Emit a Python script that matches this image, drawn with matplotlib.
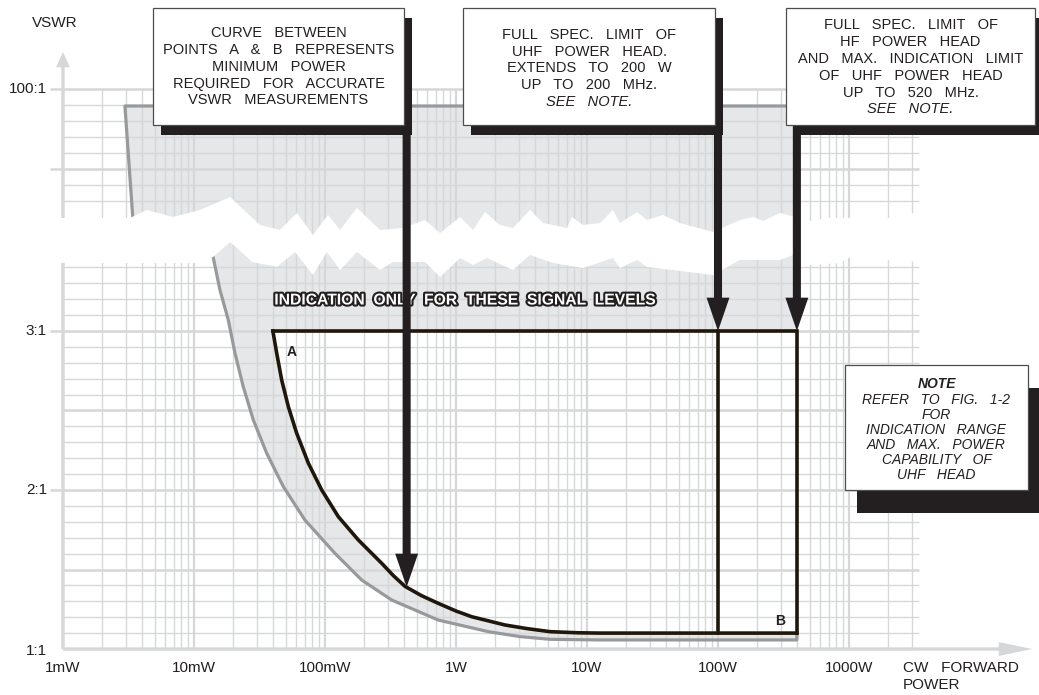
import numpy as np
import matplotlib
matplotlib.use('Agg')
import matplotlib.pyplot as plt
from matplotlib.patches import Rectangle
import matplotlib.patheffects as pe
import matplotlib.transforms as mtransforms

plt.rcParams['font.family'] = ['Liberation Sans', 'DejaVu Sans']

W, H = 1039, 695

# axis labels
x_ticks = [1e-3, 1e-2, 1e-1, 1, 10, 100, 1000]
x_labels = ['1mW', '10mW', '100mW', '1W', '10W', '100W', '1000W']
y_ticks = [0.985, 2.0, 3.0, 4.52]
y_labels = ['1:1', '2:1', '3:1', '100:1']

# gray outer boundary (power in W, VSWR in chart units; 4.52 = 100:1)
gray_p = [400, 0.00297, 0.00342, 0.0140, 0.01578, 0.01828, 0.02056, 0.02376, 0.02838,
          0.0359, 0.0481, 0.0703, 0.119, 0.1905, 0.323, 0.733, 1.765, 3.08, 5.22,
          12.6, 400, 400]
gray_v = [4.415, 4.415, 3.698, 3.465, 3.258, 3.069, 2.860, 2.650, 2.440,
          2.231, 2.021, 1.811, 1.602, 1.434, 1.308, 1.182, 1.109, 1.078, 1.061,
          1.057, 1.057, 1.10]

# curve A-B (minimum power for accurate VSWR)
black_p = [0.04, 0.0428, 0.0467, 0.0525, 0.0608, 0.0747, 0.0944, 0.1265, 0.1795,
           0.271, 0.332, 0.408, 0.547, 0.733, 1.0, 1.318, 2.366, 3.5, 5.22, 8.5, 12.6, 400]
black_v = [3.0, 2.860, 2.692, 2.524, 2.357, 2.168, 2.000, 1.832, 1.686,
           1.539, 1.462, 1.394, 1.335, 1.287, 1.239, 1.203, 1.151, 1.128, 1.109, 1.102, 1.10, 1.10]

rect_top = 3.0
rect_bot = 1.10
uhf_limit = 100
hf_limit = 400
arrow1_p = 0.42
arrow1_v = 1.39

# scale break (log10 W, chart units)
band_top_lx = [-3.176, -2.489, -2.359, -2.160, -1.954, -1.725, -1.595, -1.496, -1.344,
               -1.214, -1.092, -0.977, -0.885, -0.756, -0.580, -0.405, -0.237, -0.122,
               0.031, 0.130, 0.221, 0.336, 0.435, 0.565, 0.664, 0.847, 0.885, 0.969,
               1.099, 1.198, 1.252, 1.382, 1.458, 1.580, 1.710, 1.962, 2.168, 2.267,
               2.344, 2.473, 2.702, 2.832, 3.061, 3.237, 3.466, 3.580]
band_top_v = [3.711, 3.711, 3.761, 3.717, 3.761, 3.843, 3.742, 3.667, 3.635,
              3.742, 3.604, 3.730, 3.635, 3.774, 3.635, 3.648, 3.698, 3.616,
              3.717, 3.635, 3.748, 3.667, 3.648, 3.761, 3.679, 3.648, 3.717, 3.667,
              3.679, 3.761, 3.679, 3.748, 3.698, 3.730, 3.679, 3.623, 3.698, 3.717,
              3.692, 3.742, 3.692, 3.711, 3.711, 3.698, 3.742, 3.730]
band_bot_lx = [-3.176, -1.954, -1.855, -1.725, -1.595, -1.557, -1.366, -1.229, -1.092,
               -0.985, -0.885, -0.756, -0.580, -0.481, -0.237, -0.122, 0.031, 0.130,
               0.237, 0.435, 0.565, 0.740, 0.969, 1.198, 1.252, 1.382, 1.458, 1.962,
               2.168, 2.473, 2.573, 2.702, 2.931, 3.107, 3.237, 3.580]
band_bot_v = [3.428, 3.428, 3.465, 3.560, 3.465, 3.434, 3.403, 3.497, 3.352,
              3.497, 3.384, 3.497, 3.384, 3.434, 3.434, 3.340, 3.459, 3.415,
              3.459, 3.384, 3.478, 3.428, 3.396, 3.459, 3.396, 3.447, 3.403, 3.352,
              3.447, 3.447, 3.478, 3.415, 3.428, 3.509, 3.447, 3.434]

box1 = ['CURVE BETWEEN', 'POINTS A & B REPRESENTS', 'MINIMUM POWER',
        'REQUIRED FOR ACCURATE', 'VSWR MEASUREMENTS']
box2 = ['FULL SPEC. LIMIT OF', 'UHF POWER HEAD.', 'EXTENDS TO 200 W',
        'UP TO 200 MHz.', 'SEE NOTE.']
box3 = ['FULL SPEC. LIMIT OF', 'HF POWER HEAD', 'AND MAX. INDICATION LIMIT',
        'OF UHF POWER HEAD', 'UP TO 520 MHz.', 'SEE NOTE.']
note = ['NOTE', 'REFER TO FIG. 1-2', 'FOR', 'INDICATION RANGE',
        'AND MAX. POWER', 'CAPABILITY OF', 'UHF HEAD']

GRID = '#d6d7d8'
SHADE = '#e6e7e8'
INK = '#231f20'
CURVE = '#20170c'

fig = plt.figure(figsize=(W/100, H/100), dpi=100)
ax = fig.add_axes([0, 0, 1, 1])
ax.set_xscale('log')
ax.set_xlim(10**(-3 - 63/131), 10**(-3 + 976/131))
ax.set_ylim(1 - 46/159, 1 + 649/159)
ax.axis('off')

def fx(px):
    return px / W

def fy(py):
    return 1 - py / H

# shaded band between the two curves
sx = gray_p + black_p[::-1] + [hf_limit]
sy = gray_v + black_v[::-1] + [rect_top]
ax.fill(sx, sy, color=SHADE, lw=0, zorder=0.5)

# grid
vgrid = [m * 10.0**d for d in range(-3, 4) for m in range(1, 10) if m * 10.0**d <= 3000]
for v in vgrid:
    major = abs(np.log10(v) - round(np.log10(v))) < 1e-9
    ax.vlines(v, 1.0, 4.52, color=GRID, lw=1.6 if major else 1.0, zorder=1)
hgrid = [round(1.0 + 0.1*k, 2) for k in range(25)] + [round(4.52 - 0.1*k, 2) for k in range(8)]
thick = [1.5, 2.0, 2.5, 3.0, 4.02, 4.52]
for h in hgrid:
    ax.hlines(h, 1e-3, 3.4e3, color=GRID, lw=1.8 if h in thick else 1.0, zorder=1)
for h in [2.0, 3.0, 4.02, 4.52]:
    ax.hlines(h, 10**(-3 - 13/131), 1e-3, color=GRID, lw=1.8, zorder=1)

# axes arrows
ax.annotate('', xy=(2.5e4, 1.0), xytext=(1e-3, 1.0),
            arrowprops=dict(arrowstyle='simple,head_length=24,head_width=10,tail_width=2.4',
                            mutation_scale=1, fc=GRID, ec='none', shrinkA=0, shrinkB=0),
            zorder=1.5)
ax.annotate('', xy=(1e-3, 4.755), xytext=(1e-3, 1.0),
            arrowprops=dict(arrowstyle='simple,head_length=11,head_width=10,tail_width=2.4',
                            mutation_scale=1, fc=GRID, ec='none', shrinkA=0, shrinkB=0),
            zorder=1.5)

# gray boundary line
ax.plot(gray_p, gray_v, color='#97999b', lw=2.3, zorder=1.8, solid_joinstyle='round')

# scale break
bx = list(10.0**np.array(band_top_lx)) + list(10.0**np.array(band_bot_lx))[::-1]
by = band_top_v + band_bot_v[::-1]
ax.fill(bx, by, color='white', lw=0, zorder=2)

# A-B curve and limits
ax.plot(black_p, black_v, color=CURVE, lw=2.6, zorder=4, solid_joinstyle='round')
ax.plot([black_p[0], hf_limit, hf_limit], [rect_top, rect_top, rect_bot],
        color=CURVE, lw=2.6, zorder=4, solid_joinstyle='miter')
ax.plot([uhf_limit, uhf_limit], [rect_top, rect_bot], color=CURVE, lw=2.6, zorder=4)

# tick labels
for p, lab in zip(x_ticks, x_labels):
    ax.text(p, fy(668), lab, transform=ax.get_xaxis_transform(), ha='center', va='center',
            fontsize=11, color=INK)
ax.text(fx(903), fy(668), 'CW   FORWARD', transform=ax.transAxes, ha='left', va='center',
        fontsize=11, color=INK)
ax.text(fx(903), fy(685), 'POWER', transform=ax.transAxes, ha='left', va='center',
        fontsize=11, color=INK)
for v, lab in zip(y_ticks, y_labels):
    ax.text(fx(47), v, lab, transform=ax.get_yaxis_transform(), ha='right', va='center',
            fontsize=11, color=INK)
ax.text(fx(55), fy(23), 'VSWR', transform=ax.transAxes, ha='center', va='center',
        fontsize=11, color=INK)

ax.text(fx(465), fy(300), 'INDICATION  ONLY  FOR  THESE  SIGNAL  LEVELS', transform=ax.transAxes,
        ha='center', va='center', fontsize=11.3, fontweight='bold', color='white', zorder=5,
        path_effects=[pe.withStroke(linewidth=3, foreground=INK)])
ax.text(black_p[0], rect_top, 'A', ha='left', va='top', fontsize=10, fontweight='bold', color=INK,
        zorder=5, transform=ax.transData + mtransforms.ScaledTranslation(14/100, -14/100, fig.dpi_scale_trans))
ax.text(hf_limit, rect_bot, 'B', ha='right', va='bottom', fontsize=10, fontweight='bold', color=INK,
        zorder=5, transform=ax.transData + mtransforms.ScaledTranslation(-12/100, 5/100, fig.dpi_scale_trans))

# callout arrows
for p, v in [(arrow1_p, arrow1_v), (uhf_limit, rect_top), (hf_limit, rect_top)]:
    ax.annotate('', xy=(p, v), xytext=(p, 4.95),
                arrowprops=dict(arrowstyle='simple,head_length=24,head_width=16.5,tail_width=5.8',
                                mutation_scale=1, fc=INK, ec='none', shrinkA=0, shrinkB=0),
                zorder=6)

def callout(x0, y0, x1, y1, sdx, sdy, lines, ys, size=10.5, note_style=False):
    ax.add_patch(Rectangle((fx(x0 + sdx), fy(y1 + sdy)), (x1 - x0)/W, (y1 - y0)/H,
                           transform=ax.transAxes, fc=INK, ec='none', zorder=7))
    ax.add_patch(Rectangle((fx(x0), fy(y1)), (x1 - x0)/W, (y1 - y0)/H,
                           transform=ax.transAxes, fc='white', ec='#4d4d4f', lw=0.9, zorder=8))
    cx = (x0 + x1) / 2
    for i, (t, y) in enumerate(zip(lines, ys)):
        style = 'normal'
        weight = 'normal'
        if note_style:
            style = 'italic'
            if i == 0:
                weight = 'bold'
        elif t == 'SEE NOTE.':
            style = 'italic'
        ax.text(fx(cx), fy(y), t.replace(' ', '   '), transform=ax.transAxes, ha='center',
                va='center', fontsize=size, style=style, fontweight=weight, color=INK, zorder=9)

callout(153, 8, 404, 125, 8, 10, box1, [33, 50, 67, 84, 100])
callout(463, 8, 715, 125, 8, 10, box2, [35, 52, 68, 85, 102])
callout(786, 8, 1035, 125, 8, 10, box3, [25, 42, 59, 76, 93, 109])
callout(845, 365, 1028, 490, 12, 23, note, [384, 400, 415, 430, 445, 460, 475],
        size=10, note_style=True)

fig.savefig('out.png', dpi=100)
